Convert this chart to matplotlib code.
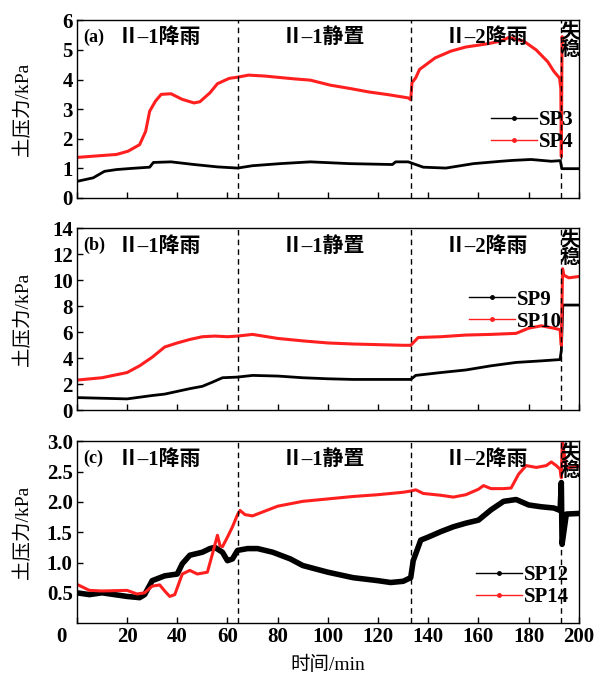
import matplotlib
matplotlib.use("Agg")
import matplotlib.pyplot as plt
from matplotlib.transforms import ScaledTranslation

plt.rcParams['font.family'] = ['Liberation Serif', 'Noto Sans CJK SC', 'DejaVu Sans']
plt.rcParams['font.weight'] = 'bold'
plt.rcParams['axes.unicode_minus'] = False

# ---- panel (a) ----
t_sp3 = [0, 6.5, 11, 15.8, 22, 29, 30.5, 37.5, 46.7, 56, 64, 70, 81, 93, 108.7, 125.7, 127, 132,
         138, 147, 158, 169, 173.7, 181, 189, 192.6, 193.2, 200]
sp3 = [0.56, 0.68, 0.9, 0.96, 1.0, 1.04, 1.2, 1.22, 1.13, 1.05, 1.01, 1.09, 1.16, 1.22, 1.16, 1.13,
       1.22, 1.22, 1.04, 1.01, 1.16, 1.24, 1.27, 1.3, 1.24, 1.26, 0.99, 0.99]
t_sp4 = [0, 15.8, 20.4, 25, 27.4, 29, 31.3, 33.6, 37.5, 42, 46.7, 49, 53, 56, 60.7, 64, 68.4, 74.6,
         87, 93, 101, 108.7, 116.4, 124, 132, 133, 133.5, 135, 136.5, 142.7, 149, 155, 163, 169,
         172, 178, 183, 187.6, 190, 192.3, 192.8, 193.0, 193.3, 193.6]
sp4 = [1.37, 1.47, 1.58, 1.8, 2.25, 2.93, 3.27, 3.5, 3.52, 3.33, 3.21, 3.25, 3.55, 3.86, 4.04, 4.08,
       4.15, 4.12, 4.02, 3.98, 3.81, 3.7, 3.58, 3.49, 3.38, 3.32, 3.89, 4.06, 4.34, 4.73, 4.96, 5.1,
       5.2, 5.3, 5.42, 5.3, 5.0, 4.6, 4.28, 4.05, 3.7, 1.4, 5.45, 5.3]

# ---- panel (b) ----
t_sp9 = [0, 10, 20, 25, 30, 35, 40, 45, 50, 54, 58, 64, 70, 80, 90, 100, 110, 120, 130, 133, 135,
         145, 155, 165, 175, 185, 192.5, 193.0, 193.6, 200]
sp9 = [0.97, 0.92, 0.87, 1.0, 1.13, 1.24, 1.45, 1.66, 1.84, 2.16, 2.5, 2.55, 2.68, 2.63, 2.5, 2.42,
       2.37, 2.37, 2.37, 2.37, 2.68, 2.9, 3.1, 3.42, 3.68, 3.8, 3.9, 4.6, 8.1, 8.1]
t_sp10 = [0, 10, 20, 25, 30, 35, 40, 45, 50, 55, 60, 64, 70, 80, 90, 100, 110, 120, 130, 133, 136,
          145, 155, 165, 175, 180, 185, 190, 192.5, 193.0, 193.5, 194, 196, 200]
sp10 = [2.32, 2.5, 2.9, 3.42, 4.08, 4.87, 5.18, 5.45, 5.66, 5.71, 5.66, 5.71, 5.84, 5.53, 5.34, 5.18,
        5.1, 5.05, 5.0, 5.0, 5.6, 5.66, 5.79, 5.84, 5.92, 6.32, 6.5, 6.32, 6.2, 5.0, 10.9, 10.4,
        10.2, 10.3]

# ---- panel (c) ----
t_sp12 = [0, 5, 10, 20, 25, 27, 30, 35, 40, 42, 45, 50, 53, 55, 58, 60, 62, 64, 68, 72, 78, 85, 90,
          100, 110, 120, 125, 130, 133, 134, 137, 140, 145, 150, 155, 160, 165, 170, 175, 180, 185,
          190, 192.5, 193.0, 193.3, 195, 200]
sp12 = [0.5, 0.47, 0.5, 0.44, 0.42, 0.47, 0.7, 0.78, 0.81, 0.98, 1.12, 1.17, 1.23, 1.25, 1.17, 1.03,
        1.06, 1.2, 1.23, 1.23, 1.17, 1.06, 0.95, 0.84, 0.75, 0.7, 0.67, 0.69, 0.75, 1.03, 1.37,
        1.42, 1.51, 1.59, 1.65, 1.7, 1.87, 2.01, 2.04, 1.95, 1.92, 1.9, 1.86, 2.32, 1.3, 1.8, 1.81]
t_sp14 = [0, 5, 10, 20, 24, 27, 30, 33, 35, 37, 39, 42, 45, 48, 52, 54, 56, 57, 58, 60, 62, 64, 65,
          67, 70, 80, 90, 100, 110, 120, 130, 133, 135, 138, 145, 150, 155, 160, 162, 165, 170,
          173, 176, 179, 183, 187, 189, 191, 192.5, 193.0, 193.4, 195, 200]
sp14 = [0.64, 0.54, 0.53, 0.54, 0.48, 0.5, 0.61, 0.63, 0.53, 0.44, 0.47, 0.81, 0.87, 0.81, 0.84,
        1.14, 1.45, 1.28, 1.26, 1.42, 1.59, 1.79, 1.86, 1.79, 1.77, 1.93, 2.01, 2.05, 2.09, 2.12,
        2.16, 2.18, 2.2, 2.14, 2.11, 2.08, 2.12, 2.21, 2.27, 2.22, 2.22, 2.23, 2.46, 2.6, 2.57, 2.6,
        2.66, 2.6, 2.54, 2.4, 3.0, 2.56, 2.59]

stage_lines = [64, 133, 193]
stage_names = ['Ⅱ–1降雨', 'Ⅱ–1静置', 'Ⅱ–2降雨']
stage_x = [33, 98, 163]
panel_tags = ['(a)', '(b)', '(c)']

panels = [
    (t_sp3, sp3, 'SP3', t_sp4, sp4, 'SP4', (0, 6), list(range(0, 7)), '%d', (0.805, 0.20)),
    (t_sp9, sp9, 'SP9', t_sp10, sp10, 'SP10', (0, 14), list(range(0, 15, 2)), '%d', (0.76, 0.375)),
    (t_sp12, sp12, 'SP12', t_sp14, sp14, 'SP14', (0, 3), [0.5, 1.0, 1.5, 2.0, 2.5, 3.0], '%.1f',
     (0.775, 0.03)),
]

fig = plt.figure(figsize=(6.10, 6.78), dpi=100)
boxes = [(0.126, 0.708, 0.823, 0.262),
         (0.126, 0.395, 0.823, 0.268),
         (0.126, 0.081, 0.823, 0.268)]
red = '#ff1f1f'

for i, (box, p) in enumerate(zip(boxes, panels)):
    tb, yb, lb, tr, yr, lr, ylim, yticks, fmt, legpos = p
    ax = fig.add_axes(box)
    blk_lw = 4.0 if i == 2 else 2.0
    ax.plot(tb, yb, color='black', lw=blk_lw, label=lb)
    ax.plot(tr, yr, color=red, lw=2.2, label=lr)
    for xv in stage_lines:
        ax.axvline(xv, color='black', lw=1.0, ls=(0, (4, 3)))
    ax.set_xlim(0, 200)
    ax.set_ylim(*ylim)
    ax.set_yticks(yticks)
    ax.set_yticklabels([fmt % v for v in yticks], fontsize=15)
    ax.set_xticks(range(0, 201, 20))
    ax.tick_params(direction='in', length=4, width=1, top=False, right=False, pad=3)
    if i < 2:
        ax.set_xticklabels([])
    else:
        ax.set_xticklabels([str(v) for v in range(0, 201, 20)], fontsize=15)
        lab0 = ax.get_xticklabels()[0]
        lab0.set_transform(lab0.get_transform() + ScaledTranslation(-0.15, 0, fig.dpi_scale_trans))
        ax.set_xlabel('时间/min', fontsize=14, labelpad=6)
    ax.set_ylabel('土压力/kPa', fontsize=14, labelpad=2)
    ax.yaxis.set_label_coords(-0.09, 0.5)
    ax.text(2.5, 0.955, panel_tags[i], transform=ax.get_xaxis_transform(),
            fontsize=13, va='top', ha='left')
    for name, xs in zip(stage_names, stage_x):
        ax.text(xs, 0.955, name, transform=ax.get_xaxis_transform(),
                fontsize=15, va='top', ha='center')
    ax.text(196.5, 0.99, '失\n稳', transform=ax.get_xaxis_transform(),
            fontsize=14, va='top', ha='center', linespacing=1.0)
    leg = ax.legend(loc='lower left', bbox_to_anchor=legpos, frameon=False, fontsize=15,
                    handlelength=2.2, handletextpad=0.1, labelspacing=0.1, borderpad=0)
    for h in leg.get_lines():
        h.set_linewidth(1.0)
        h.set_marker('.')
        h.set_markersize(5)
        h.set_markevery([1])
    for sp in ax.spines.values():
        sp.set_linewidth(1.0)

fig.savefig('out.png', dpi=100)
